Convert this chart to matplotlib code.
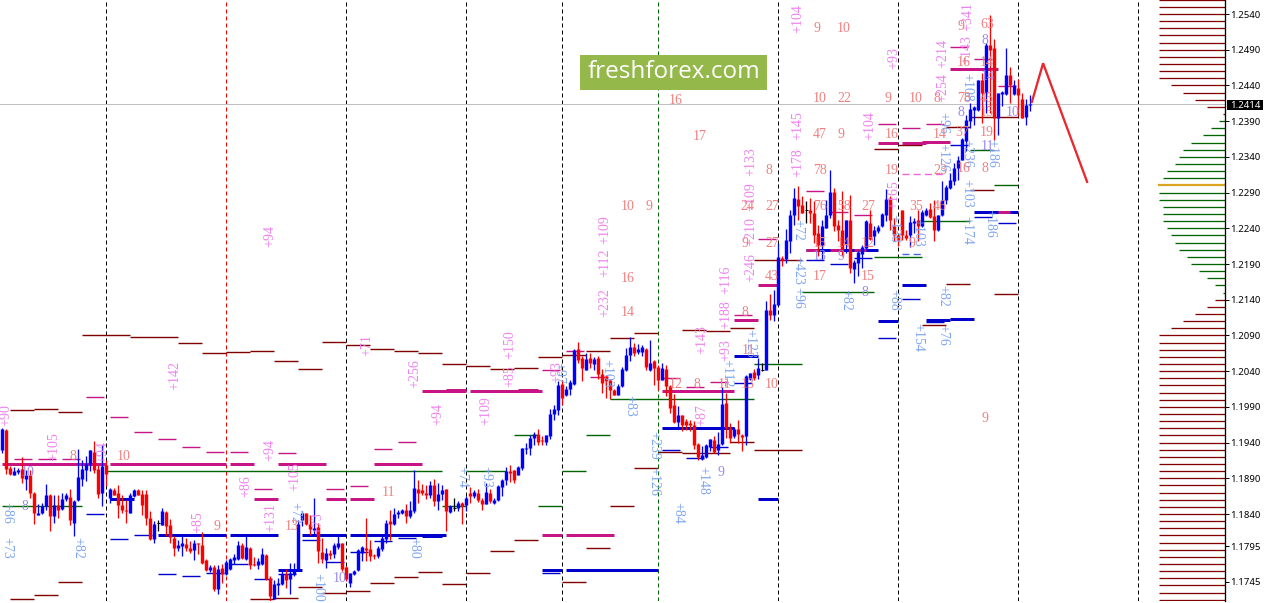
import matplotlib
matplotlib.use("Agg")
import matplotlib.pyplot as plt
from matplotlib.patches import Rectangle

# ---- candles, in price points (1 point = 0.0001) ----
opens = [11929,11958,11904,11895,11899,11903,11889,11895,11870,11839,
11842,11851,11866,11837,11852,11847,11861,11864,11828,11859,
11889,11902,11910,11927,11903,11869,11908,11862,11874,11869,
11853,11845,11842,11865,11874,11868,11868,11835,11805,11828,
11825,11843,11825,11807,11793,11795,11798,11792,11790,11799,
11797,11775,11762,11766,11735,11764,11756,11763,11775,11777,
11796,11777,11793,11770,11769,11770,11783,11751,11721,11740,
11742,11756,11749,11756,11763,11832,11841,11826,11818,11822,
11787,11776,11785,11784,11794,11799,11766,11744,11756,11761,
11786,11792,11791,11783,11781,11791,11805,11830,11826,11840,
11841,11845,11837,11844,11875,
11873,11870,11866,11880,11858,11868,11875,11843,11848,11848,
11855,11853,11870,11865,11869,11860,11854,11869,11855,11859,
11878,11888,11900,11901,11895,11904,11931,11932,11947,11952,
11944,11941,11949,11980,11986,12022,12006,12015,12022,12071,
12058,12042,12058,12050,12059,12036,12033,12028,12014,12007,
12019,12041,12062,12074,12067,12067,12071,12042,12054,12046,
12028,12043,12019,11992,11969,11978,11970,11968,11964,11938,
11917,11920,11934,11944,11930,11938,11995,11961,11949,11959,
11951,11949,12029,12039,12034,12042,
12042,12126,12118,12133,12199,12197,12222,12259,12281,12273,
12265,12266,12261,12233,12217,12241,12258,12291,12245,12238,
12218,12252,12183,12192,12204,12212,12247,12229,12236,12243,
12258,12283,12243,12230,12265,12231,12230,12248,12251,12243,
12259,12267,12257,12237,12258,12279,12296,12306,12324,12336,
12362,12390,12405,12406,12447,12429,12497,12492,12394,12428,
12428,12454,12428,12436,12421,12396,12412]

closes = [11959,11903,11896,11900,11902,11891,11894,11869,11841,11842,
11851,11867,11837,11852,11846,11861,11866,11831,11858,11892,
11903,11910,11929,11902,11868,11907,11896,11875,11867,11853,
11845,11844,11867,11873,11867,11853,11834,11805,11826,11828,
11844,11823,11808,11792,11796,11799,11792,11788,11799,11798,
11772,11762,11766,11735,11763,11756,11773,11777,11780,11797,
11778,11794,11768,11768,11774,11784,11749,11725,11742,11744,
11756,11748,11757,11763,11826,11842,11826,11819,11820,11788,
11777,11785,11783,11797,11800,11763,11749,11757,11760,11790,
11794,11789,11781,11781,11793,11807,11828,11826,11840,11843,
11846,11837,11845,11876,11869,
11869,11867,11881,11858,11868,11874,11844,11851,11848,11855,
11851,11862,11865,11871,11860,11854,11871,11858,11859,11879,
11888,11900,11898,11887,11906,11932,11932,11947,11952,11941,
11942,11950,11980,11987,12021,12003,12015,12025,12070,12056,
12044,12057,12051,12057,12036,12024,12026,12014,12007,12019,
12043,12062,12074,12066,12071,12074,12046,12051,12044,12028,
12044,12019,11989,11969,11978,11965,11965,11964,11937,11920,
11922,11937,11945,11927,11938,11994,11960,11947,11959,11952,
11948,12033,12037,12030,12044,12042,
12125,12119,12134,12200,12195,12223,12259,12282,12271,12262,
12265,12262,12231,12217,12243,12259,12291,12243,12237,12208,
12251,12185,12193,12207,12214,12250,12225,12238,12242,12260,
12281,12252,12230,12223,12231,12226,12249,12250,12243,12263,
12266,12256,12237,12258,12279,12298,12307,12324,12336,12365,
12391,12407,12410,12448,12429,12497,12490,12394,12429,12431,
12455,12440,12440,12426,12395,12413,12414]

highs = [11960,11959,11907,11906,11904,11920,11902,11902,11871,11854,
11855,11882,11868,11867,11866,11869,11869,11875,11859,11931,
11916,11921,11930,11942,11909,11937,11915,11877,11876,11880,
11867,11860,11869,11875,11875,11874,11873,11844,11830,11831,
11848,11844,11833,11809,11804,11810,11806,11802,11804,11799,
11815,11777,11769,11768,11769,11770,11775,11779,11784,11802,
11800,11811,11794,11780,11778,11792,11784,11753,11748,11750,
11761,11763,11771,11772,11832,11844,11842,11839,11862,11828,
11806,11792,11790,11799,11811,11799,11767,11758,11762,11791,
11795,11835,11804,11784,11795,11809,11832,11846,11848,11846,
11847,11854,11858,11902,11888,
11882,11881,11886,11889,11883,11880,11875,11852,11862,11858,
11857,11865,11878,11874,11875,11862,11883,11875,11862,11880,
11889,11906,11909,11902,11907,11933,11939,11950,11955,11959,
11949,11951,11987,11993,12026,12028,12019,12028,12071,12081,
12061,12065,12066,12060,12061,12043,12035,12029,12015,12022,
12046,12072,12088,12079,12078,12076,12072,12083,12056,12048,
12051,12049,12020,12008,11991,11978,11973,11971,11970,11939,
11935,11938,11945,11949,11955,12018,12009,11967,11962,11971,
11952,12035,12038,12043,12058,12051,
12138,12148,12154,12219,12201,12239,12266,12296,12299,12285,
12278,12282,12278,12245,12252,12280,12322,12296,12252,12292,
12252,12287,12196,12208,12217,12252,12265,12243,12245,12261,
12295,12285,12254,12231,12266,12238,12257,12254,12266,12265,
12268,12275,12280,12259,12306,12301,12317,12331,12341,12366,
12399,12415,12411,12448,12457,12499,12538,12505,12429,12432,
12492,12466,12448,12449,12430,12421,12427]

lows = [11926,11896,11895,11895,11896,11884,11874,11863,11826,11838,
11840,11846,11816,11828,11834,11846,11858,11824,11809,11858,
11879,11886,11900,11897,11862,11851,11879,11855,11866,11835,
11841,11828,11842,11864,11866,11839,11824,11804,11800,11816,
11824,11809,11799,11781,11788,11781,11788,11786,11775,11784,
11770,11760,11759,11732,11728,11743,11754,11762,11770,11776,
11777,11776,11763,11767,11763,11769,11748,11718,11721,11727,
11741,11736,11728,11753,11762,11823,11825,11810,11811,11771,
11771,11764,11777,11778,11791,11760,11746,11738,11755,11760,
11774,11774,11774,11777,11779,11788,11800,11804,11825,11834,
11840,11828,11835,11842,11855,
11867,11861,11862,11851,11846,11860,11816,11842,11844,11844,
11826,11844,11855,11862,11857,11846,11854,11856,11854,11858,
11865,11880,11885,11884,11894,11902,11924,11923,11936,11937,
11936,11937,11945,11972,11979,11993,12005,12007,12021,12051,
12026,12041,12044,12042,12029,12010,12002,12001,12006,12007,
12018,12040,12054,12061,12064,12061,12041,12040,12020,12014,
12027,12005,11982,11967,11959,11956,11958,11956,11931,11915,
11916,11918,11928,11926,11923,11937,11946,11939,11946,11940,
11928,11936,12028,12027,12029,12040,
12041,12111,12110,12132,12187,12191,12205,12245,12252,12261,
12247,12247,12219,12201,12196,12240,12254,12236,12222,12201,
12205,12177,12164,12173,12185,12211,12224,12217,12233,12242,
12250,12238,12222,12215,12223,12223,12214,12233,12222,12242,
12257,12254,12222,12236,12257,12274,12295,12301,12308,12335,
12348,12380,12384,12404,12388,12401,12401,12363,12370,12411,
12427,12415,12427,12397,12394,12384,12404]

# ---- level segments: (first bar, last bar, price points) ----
dark_red = [(2,8,11721),(8,14,11726),(14,20,11745),(2,8,11986),(8,14,11987),(14,20,11983),
(20,32,12091),(32,44,12088),(44,50,12079),(50,56,12065),(56,62,12067),(62,68,12068),
(68,74,12054),(74,80,12043),(80,86,12081),(86,92,12077),(92,98,12071),(98,104,12068),
(104,110,12065),(62,68,11721),(68,74,11722),(74,80,11738),(80,86,11729),(86,92,11732),
(92,98,11743),(98,104,11752),(104,110,11759),(110,116,12050),(116,122,12047),(122,128,12043),
(128,134,12044),(134,140,12060),(140,146,12063),(146,152,12068),(152,158,12086),(158,164,12093),
(170,176,12098),(176,182,12096),(110,116,11742),(116,122,11757),(122,128,11788),(128,134,11804),
(140,146,11745),(146,152,11792),(152,158,11851),(158,164,11904),(164,170,11927),(170,182,11925),
(182,188,11941),(188,200,11930),(188,200,12196),(218,224,12351),(224,230,12356),(236,242,12382),
(242,254,12396),(242,248,12294),(236,242,12162),(248,254,12148),(230,236,12104),(182,188,12100)]
green = [(0,20,11851),(26,110,11900),(116,126,11900),(128,134,11951),(110,116,11851),(134,140,11851),
(140,146,11900),(146,152,11951),(152,188,12001),(188,200,12050),(200,218,12151),(218,230,12200),
(230,242,12250),(242,248,12350),(248,254,12300)]
magenta_thin = [(3,7.5,11917),(9,13.5,11917),(15,19.5,11917),(21,25.5,12004),(27,31.5,11976),(33,37.5,11955),
(39,43.5,11945),(45,49.5,11934),(51,55.5,11927),(57,61.5,11927),(63,67.5,11875),(69,73.5,11925),
(81,85.5,11875),(87,91.5,11879),(93,97.5,11931),(99,103.5,11941),(135,139.5,12042),(141,145.5,12068),
(147,151.5,12032),(165,169.5,12030),(171,175.5,12018),(177,181.5,12025),(201,205.5,12292),(207,211.5,12263),
(213,217.5,12258),(219,223.5,12386),(225,229.5,12380),(231,235.5,12386),(237,241.5,12494),(243,247.5,12477),
(249,253.5,12439),(189,193.5,12225),(183,187.5,12119)]
blue_thin = [(21,25.5,11840),(27,31.5,11805),(33,37.5,11810),(39,43.5,11756),(45,49.5,11753),(51,55.5,11757),
(57,61.5,11770),(63,67.5,11749),(69,73.5,11756),(75,79.5,11804),(81,85.5,11773),(87,91.5,11787),
(93,97.5,11802),(99,103.5,11806),(135,139.5,11757),(165,169.5,11930),(171,175.5,11918),(177,181.5,11934),
(183,187.5,12023),(201,205.5,12195),(207,211.5,12190),(213,217.5,12198),(219,223.5,12086),(225,229.5,12141),
(231,235.5,12109),(243,247.5,12256),(249,253.5,12247),(237,241.5,12356)]
blue_thick = [(27,33,11861),(36,39,11910),(39,56,11811),(57,69,11811),(69,75,11761),(75,86,11811),(87,111,11811),
(105,110,11809),(135,140,11761),(141,164,11761),(165,183,11961),(183,189,12061),(189,194,11861),
(219,224,12110),(225,231,12160),(231,237,12111),(237,243,12113),(243,254,12263),(201,219,12210)]
magenta_thick = [(0,26,11910),(27,56,11910),(57,63,11910),(63,69,11861),(69,81,11910),(81,86,11861),(87,93,11861),
(93,105,11910),(105,116,12012),(117,135,12012),(111,116,12013),(129,134,12013),(135,140,11811),(141,153,11811),
(165,183,12012),(183,189,12111),(189,194,12161),(201,204,12210),(207,210,12210),(213,216,12210),(219,224,12360),
(225,231,12360),(230,237,12361),(237,249,12463),(249,252,12263)]
magenta_dashed = [(225,236,12316)]
blue_dashed = [(225,230,12204)]

period_bars = [26,56,86,116,140,164,194,224,254,284]
period_cols = ['k','#ff0000','k','k','k','#006400','k','k','k','k']

forecast_bars = [257.4,260.2,271.2]
forecast_prices = [1.2417,1.2471,1.2305]
last_price = 1.2414

# ---- market profile: level from 1.2560 down by 0.0010, length in bars ----
profile_top = 1.2560
profile_lengths = [16.6]*12+[13.6,10.6,7.6,4.6,0.6,
 1.6,3.6,5.6,8.6,10.6,11.6,12.6,14.6,15.6,16.8,
 16.6,16.6,15.6,15.6,15.6,14.6,13.6,12.6,11.6,9.6,8.6,6.6,4.6,2.6,0.6,
 2.6,4.6,7.6,10.6,13.6]+[16.6]*38
profile_colors = ['#800000']*17+['#006400']*9+['#daa520']+['#006400']*15+['#800000']*43

tick_values = [1.2540,1.2490,1.2440,1.2390,1.2340,1.2290,1.2240,1.2190,1.2140,1.2090,1.2040,
               1.1990,1.1940,1.1890,1.1840,1.1795,1.1745]

# ---- labels: text, pixel x, pixel y ----
up_labels = [("+90",6,415),("+105",54,447),("+94",103,452),("+142",175,375),("+94",270,236),("+71",367,345),
("+256",415,374),("+94",270,450),("+86",246,486),("+105",295,477),("+131",271,518),("+85",198,522),("+73",318,523),
("+94",438,414),("+109",486,411),("+85",510,376),("+150",510,345),("+93",557,372),("+232",605,303),("+112",605,263),
("+109",605,230),("+87",702,415),("+143",702,340),("+93",726,350),("+116",726,280),("+188",726,315),
("+246",751,268),("+210",751,232),("+109",751,197),("+133",751,162),("+104",798,19),("+145",798,126),("+178",798,163),
("+104",870,126),("+93",894,58),("+165",894,195),("+214",943,53),("+254",943,88),("+341",968,17),("+143",967,50)]
down_labels = [("+86",7,513),("+73",7,548),("+82",78,548),("+72",295,513),("+100",318,587),("+80",414,548),
("+74",462,477),("+93",486,477),("+83",630,406),("+239",654,445),("+126",654,481),("+84",678,513),("+148",703,480),
("+123",750,343),("+112",727,373),("+97",559,373),("+103",607,373),("+72",798,230),("+423",798,270),("+96",798,298),
("+82",846,300),("+88",894,300),("+82",943,296),("+154",918,337),("+76",943,335),("+103",967,193),("+174",967,230),
("+186",990,223),("+236",967,153),("+186",992,153),("+108",967,87),("+138",894,228),("+103",918,232),("+96",943,123),
("+126",943,157)]
count_labels = [("10",124,457),("8",73,457),("9",217,527),("13",292,527),("11",388,492),("12",676,384),("8",697,384),
("11",724,384),("13",748,384),("10",772,384),("11",748,350),("16",628,278),("14",628,313),("10",628,207),("9",649,207),
("16",676,100),("17",700,136),("9",817,28),("10",844,28),("10",820,99),("22",844,99),("9",888,99),("10",916,99),("8",937,99),
("47",820,135),("9",841,135),("16",892,135),("14",940,135),("37",962,133),("8",769,171),("78",820,171),("19",892,171),
("23",940,171),("16",964,169),("8",985,169),("24",747,207),("27",772,207),("76",820,207),("58",844,207),("27",868,207),
("35",916,207),("46",940,207),("9",745,243),("27",772,243),("15",820,243),("14",844,243),("12",868,243),("9",912,243),
("43",772,277),("17",820,277),("15",868,277),("8",745,313),("9",961,27),("63",987,25),("16",964,62),("14",987,62),
("78",964,98),("45",987,98),("19",987,133),("15",987,113),("9",985,418)]
violet_labels = [("8",25,507),("10",28,472),("10",340,578),("9",721,472),("13",820,257),("9",841,257),("8",865,293),
("8",961,113),("10",1013,113),("8",985,40),("11",987,147),("14",988,76)]

W, H = 1267, 603
PX = 72/100
fig = plt.figure(figsize=(W/100, H/100), dpi=100, facecolor='white')
ax = fig.add_axes([0, 2/H, 1225.3/W, 601/H])
ax.set_xlim(-0.575, 305.75)
ax.set_ylim(1.17182, 1.25596)

def pts(v):
    return v/10000

def segs(rows, color, px, z=2, **kw):
    ax.hlines([pts(r[2]) for r in rows], [r[0] for r in rows], [r[1] for r in rows],
              colors=color, linewidth=px*PX, zorder=z, **kw)

for b, c in zip(period_bars, period_cols):
    ax.axvline(b, color=c, lw=1*PX, ls=(0,(4,3)), zorder=1)
ax.axhline(last_price, color='#c0c0c0', lw=1*PX, zorder=1)

segs(dark_red, '#800000', 1.4)
segs(green, '#006400', 1.4)
segs(magenta_thin, '#c71585', 1.4)
segs(blue_thin, '#0000cd', 1.4)
segs(blue_thick, '#0000cd', 3, z=3)
segs(magenta_thick, '#c71585', 3, z=3)
segs(magenta_dashed, '#ee66dd', 1.4, linestyles=[(0,(5,3))])
segs(blue_dashed, '#4169e1', 1.4, linestyles=[(0,(5,3))])

# candles
for i,(o,h,l,c) in enumerate(zip(opens,highs,lows,closes)):
    col = 'k' if o==c else ('#0000ff' if c>o else '#ff0000')
    ax.vlines(i, pts(l), pts(h), colors=col, linewidth=1.3*PX, zorder=4)
    if o==c:
        ax.hlines(pts(o), i-0.4, i+0.4, colors=col, linewidth=1*PX, zorder=4)
    else:
        ax.vlines(i, pts(min(o,c)), pts(max(o,c)), colors=col, linewidth=3.4*PX, zorder=4)

# forecast
ax.plot(forecast_bars, forecast_prices, color='#e8282e', lw=2.3*PX, zorder=5, solid_joinstyle='miter')

# profile
xmax = ax.get_xlim()[1]
for k,(n,c) in enumerate(zip(profile_lengths, profile_colors)):
    gold = c=='#daa520'
    ax.hlines(profile_top-0.001*k, xmax-n, xmax, colors=c, linewidth=(2.2 if gold else 1.3)*PX, zorder=2, clip_on=True)

# axis
for s in ('top','left','bottom'):
    ax.spines[s].set_visible(False)
ax.spines['right'].set_linewidth(1.3*PX)
ax.patch.set_alpha(0)
ax.set_xticks([])
ax.yaxis.tick_right()
ax.set_yticks(tick_values)
ax.set_yticklabels([f"{v:.4f}" for v in tick_values], fontsize=6.9, family='Noto Sans', color='k')
ax.tick_params(axis='y', length=3, width=1*PX, pad=0.8, color='k')

def fx(x): return x/W
def fy(y): return 1-y/H

fig.add_artist(Rectangle((fx(1227),fy(110)),36/W,10.5/H,transform=fig.transFigure,facecolor='k',edgecolor='none',zorder=6))
fig.text(fx(1245),fy(105),f"{last_price:.4f}",color='white',fontsize=6.9,family='Noto Sans',ha='center',va='center',zorder=7)

for t,x,y in up_labels:
    fig.text(fx(x),fy(y),t,rotation=90,color='#ee82ee',fontsize=10,family='Liberation Serif',ha='center',va='center',zorder=8)
for t,x,y in down_labels:
    fig.text(fx(x),fy(y),t,rotation=270,color='#7ea4f0',fontsize=10,family='Liberation Serif',ha='center',va='center',zorder=8)
for t,x,y in count_labels:
    fig.text(fx(x),fy(y),t,color='#f08080',fontsize=10,family='Liberation Serif',ha='center',va='center',zorder=8)
for t,x,y in violet_labels:
    fig.text(fx(x),fy(y),t,color='#9a8aee',fontsize=10,family='Liberation Serif',ha='center',va='center',zorder=8)

# logo
fig.add_artist(Rectangle((fx(580),fy(90)),187/W,35/H,transform=fig.transFigure,facecolor='#94b84a',edgecolor='none',zorder=9))
fig.text(fx(673.5),fy(72),"freshforex.com",color='white',fontsize=17.5,family='Open Sans',ha='center',va='center',zorder=10)

fig.savefig('out.png', dpi=100, facecolor='white')
